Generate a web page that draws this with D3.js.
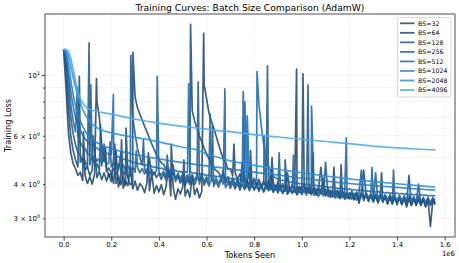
<!DOCTYPE html>
<html>
<head>
<meta charset="utf-8">
<script src="https://cdn.jsdelivr.net/npm/d3@7"></script>
<style>
  body { margin: 0; background: #fff; }
  text { font-family: "DejaVu Sans", sans-serif; fill: #000; }
</style>
</head>
<body>
<svg id="chart"></svg>
<script>
// Batch sizes and line colours (dark -> light)
const batchSizes = [32, 64, 128, 256, 512, 1024, 2048, 4096];
const colors = ["#24476a", "#1d4f7d", "#245b8a", "#23639a", "#1f6cb0", "#2a7ec6", "#2f91db", "#4ea9ea"];

// Small-batch runs are logged every 10k tokens (0 .. 1.56e6)
const denseTokens = d3.range(157).map(i => i * 1e4);

const loss32 = [
  12.4, 9.0, 6.2, 5.2, 4.75, 4.55, 4.3, 4.42, 4.12, 4.3,
  4.02, 4.25, 4.0, 4.35, 8.0, 7.0, 5.6, 4.85, 4.6, 4.25,
  4.38, 4.02, 5.3, 3.9, 4.2, 3.86, 4.12, 3.95, 4.6, 3.84,
  4.1, 3.8, 4.02, 3.92, 3.72, 4.05, 3.78, 4.4, 3.7, 3.95,
  3.74, 3.98, 3.66, 3.9, 4.6, 3.62, 3.88, 3.52, 3.84, 3.68,
  3.9, 3.62, 3.82, 3.58, 4.3, 3.66, 3.86, 3.56, 3.76, 9.2,
  8.2, 7.3, 6.8, 6.4, 6.0, 5.6, 5.25, 4.95, 4.8, 4.52,
  4.55, 4.28, 4.42, 4.15, 4.35, 4.08, 4.28, 4.02, 4.6, 3.98,
  4.2, 3.95, 4.16, 3.9, 4.1, 3.86, 4.12, 3.82, 4.05, 3.85,
  4.08, 3.8, 4.02, 3.78, 4.4, 3.75, 3.98, 3.74, 3.8, 3.92,
  3.82, 3.98, 3.72, 3.94, 3.7, 3.9, 3.66, 3.88, 3.68, 4.2,
  3.64, 3.86, 3.6, 3.82, 3.66, 3.8, 3.56, 3.78, 3.6, 3.74,
  3.54, 3.76, 3.52, 3.72, 3.4, 3.7, 3.5, 3.68, 3.48, 3.66,
  3.46, 3.64, 3.42, 3.66, 3.44, 3.62, 3.38, 3.6, 3.42, 3.58,
  3.36, 3.58, 3.38, 3.56, 3.3, 3.54, 3.34, 3.56, 3.36, 3.52,
  3.34, 3.52, 3.3, 3.5, 2.8, 3.48, 3.36
];

const loss64 = [
  12.4, 10.5, 7.5, 6.0, 5.3, 4.9, 4.62, 4.8, 4.95, 4.5,
  4.62, 4.3, 4.5, 5.4, 4.22, 4.45, 4.15, 4.4, 4.1, 4.36,
  4.08, 5.0, 4.02, 4.3, 3.98, 4.26, 3.95, 4.22, 3.98, 4.05,
  8.3, 7.6, 7.2, 6.85, 6.5, 6.2, 5.9, 5.6, 5.35, 5.1,
  4.95, 4.78, 4.72, 4.5, 4.52, 4.32, 4.4, 4.18, 4.3, 4.05,
  4.22, 3.95, 4.15, 4.0, 7.4, 6.8, 6.4, 6.0, 5.7, 5.4,
  5.15, 4.95, 4.75, 4.6, 4.48, 4.42, 4.26, 4.32, 4.1, 4.25,
  4.0, 4.2, 3.94, 4.16, 3.9, 4.8, 3.86, 4.1, 3.84, 4.06,
  3.82, 4.04, 3.8, 4.0, 3.76, 3.98, 3.78, 4.5, 3.74, 3.96,
  3.72, 3.94, 3.7, 3.92, 3.68, 3.9, 3.72, 3.88, 3.66, 3.9,
  3.7, 3.9, 3.72, 3.86, 3.66, 3.84, 3.64, 3.82, 4.6, 3.8,
  3.62, 3.8, 3.58, 3.78, 3.56, 3.76, 3.54, 3.74, 3.52, 3.72,
  3.54, 3.72, 3.5, 3.7, 3.48, 3.68, 4.5, 3.66, 3.46, 3.64,
  3.44, 3.62, 3.42, 3.62, 3.46, 3.6, 3.4, 3.58, 3.38, 3.58,
  3.42, 3.56, 3.36, 3.56, 3.38, 4.3, 3.36, 3.54, 3.34, 3.54,
  3.36, 3.52, 3.32, 3.52, 3.34, 3.5, 3.4
];

const loss128 = [
  12.4, 11.2, 8.6, 7.0, 6.1, 5.55, 5.2, 5.1, 4.82, 4.86,
  4.6, 4.7, 5.1, 4.68, 4.74, 4.48, 4.66, 5.6, 4.45, 4.58,
  4.38, 4.55, 4.34, 4.5, 5.2, 4.28, 4.48, 4.22, 4.3, 7.0,
  6.1, 5.4, 5.0, 4.7, 4.52, 4.38, 5.0, 4.3, 4.42, 4.22,
  4.38, 4.16, 4.36, 4.12, 4.32, 4.1, 4.7, 4.08, 4.28, 4.04,
  4.26, 4.02, 4.24, 4.0, 4.2, 3.98, 4.18, 4.0, 4.4, 3.96,
  4.16, 3.94, 4.14, 3.92, 4.1, 3.9, 4.08, 4.5, 3.88, 4.06,
  3.86, 4.04, 3.84, 4.02, 3.8, 4.0, 3.82, 3.98, 3.78, 3.98,
  3.8, 3.96, 3.76, 3.94, 3.74, 3.92, 3.8, 4.0, 3.74, 3.9,
  3.72, 3.9, 3.7, 3.88, 3.68, 3.86, 3.7, 3.86, 3.66, 3.84,
  3.66, 3.84, 3.64, 3.7, 3.86, 3.64, 3.82, 3.6, 3.8, 3.62,
  4.8, 3.6, 3.78, 3.58, 3.76, 3.56, 3.74, 3.56, 3.72, 3.54,
  3.72, 3.52, 3.7, 3.5, 3.7, 4.5, 3.48, 3.68, 3.48, 3.66,
  3.46, 4.4, 3.44, 3.64, 3.44, 3.62, 3.42, 3.62, 3.4, 3.6,
  3.42, 3.6, 3.38, 3.58, 3.4, 3.58, 3.36, 3.56, 3.38, 4.0,
  3.38, 3.56, 3.34, 3.54, 3.36, 3.56, 3.42
];

const loss256 = [
  12.4, 11.6, 9.4, 7.8, 6.8, 6.2, 6.0, 5.7, 5.45, 5.4,
  5.15, 5.1, 4.98, 5.06, 4.85, 4.95, 4.78, 4.9, 4.7, 4.8,
  4.62, 4.78, 4.56, 4.74, 4.52, 4.7, 4.48, 4.66, 4.46, 4.62,
  4.42, 4.6, 4.4, 4.56, 4.36, 4.54, 4.34, 4.52, 4.32, 4.5,
  4.44, 4.3, 4.46, 4.26, 4.42, 4.24, 4.4, 4.2, 4.38, 4.18,
  4.36, 4.16, 4.34, 4.14, 4.32, 4.12, 4.3, 4.1, 4.28, 4.08,
  4.26, 4.06, 4.24, 4.04, 4.22, 4.02, 4.2, 4.0, 4.05, 4.12,
  3.98, 4.16, 3.96, 4.14, 3.94, 4.0, 4.1, 3.92, 4.08, 3.9,
  4.06, 3.88, 4.04, 3.86, 4.02, 3.84, 4.0, 3.82, 3.98, 3.8,
  3.96, 3.78, 3.96, 3.76, 3.94, 3.76, 3.92, 3.74, 3.9, 3.72,
  3.9, 3.72, 3.88, 3.7, 3.76, 3.86, 3.86, 3.7, 3.84, 3.68,
  3.82, 3.66, 3.8, 3.64, 3.8, 3.64, 3.78, 3.62, 3.76, 3.7,
  3.6, 3.76, 3.6, 3.74, 3.58, 3.72, 3.56, 3.72, 3.56, 3.7,
  3.54, 3.68, 3.54, 3.68, 3.52, 3.66, 3.5, 3.66, 3.5, 3.64,
  3.48, 3.64, 3.48, 3.62, 3.46, 3.62, 3.46, 3.6, 3.44, 3.6,
  3.44, 3.58, 3.44, 3.58, 3.42, 3.56, 3.5
];

const loss512 = [
  12.4, 11.9, 10.2, 8.7, 7.7, 7.0, 6.6, 6.3, 6.05, 5.85,
  5.72, 5.58, 5.54, 5.44, 5.42, 5.32, 5.31, 5.22, 5.21, 5.14,
  5.13, 5.1, 5.06, 5.04, 4.96, 4.95, 4.9, 4.89, 4.84, 4.83,
  4.78, 4.79, 4.73, 4.74, 4.68, 4.69, 4.64, 4.65, 4.6, 4.61,
  4.56, 4.58, 4.53, 4.55, 4.5, 4.51, 4.47, 4.49, 4.44, 4.45,
  4.41, 4.43, 4.42, 4.47, 4.38, 4.4, 4.35, 4.37, 4.32, 4.34,
  4.3, 4.32, 4.28, 4.29, 4.26, 4.27, 4.23, 4.25, 4.21, 4.23,
  4.19, 4.21, 4.17, 4.19, 4.15, 4.17, 4.16, 4.18, 4.16, 4.13,
  4.14, 4.12, 7.8, 6.5, 5.6, 5.0, 4.65, 4.42, 4.3, 4.21,
  4.18, 4.13, 4.13, 4.09, 4.1, 4.06, 4.07, 4.03, 4.05, 4.01,
  4.02, 3.99, 4.0, 3.96, 3.98, 3.94, 3.96, 3.92, 3.94, 3.91,
  3.92, 3.89, 3.9, 3.87, 3.89, 3.85, 3.87, 3.84, 3.85, 3.82,
  3.84, 3.81, 3.82, 3.79, 3.81, 3.78, 3.79, 3.76, 3.78, 3.75,
  3.77, 3.74, 3.76, 3.73, 3.74, 3.71, 3.73, 3.7, 3.72, 3.69,
  3.71, 3.68, 3.7, 3.67, 3.69, 3.66, 3.68, 3.65, 3.67, 3.64,
  3.66, 3.64, 3.65, 3.62, 3.64, 3.62, 3.63
];

// Loss spikes between logged points: [tokens, loss]
const spikes32 = [
  [0.083e6, 6.2], [0.138e6, 9.7], [0.176e6, 5.4], [0.243e6, 5.8], [0.356e6, 5.2],
  [0.452e6, 5.6], [0.505e6, 4.9], [0.588e6, 14.2], [0.715e6, 5.6], [0.875e6, 5.0],
  [0.978e6, 10.5], [1.135e6, 4.6], [1.335e6, 4.4]
];
const spikes64 = [
  [0.066e6, 9.9], [0.124e6, 6.0], [0.215e6, 5.6], [0.262e6, 6.4], [0.291e6, 12.1],
  [0.533e6, 15.3], [0.785e6, 5.3], [0.93e6, 4.9], [1.005e6, 10.1], [1.165e6, 4.7]
];
const spikes128 = [
  [0.107e6, 13.1], [0.155e6, 6.6], [0.282e6, 11.8], [0.335e6, 5.8], [0.435e6, 5.1],
  [0.565e6, 9.45], [0.625e6, 6.5], [0.856e6, 10.8], [0.905e6, 5.2], [1.026e6, 9.2],
  [1.048e6, 5.2], [1.385e6, 4.5]
];
const spikes256 = [
  [0.058e6, 9.0], [0.114e6, 9.2], [0.195e6, 5.7], [0.305e6, 5.3], [0.393e6, 9.9],
  [0.615e6, 7.2], [0.677e6, 8.9], [0.754e6, 8.7], [0.842e6, 6.0], [0.965e6, 5.1],
  [1.041e6, 7.7], [1.187e6, 5.9], [1.295e6, 4.6]
];
const spikes512 = [
  [0.209e6, 8.5], [0.525e6, 9.3], [0.761e6, 8.0], [0.771e6, 7.1], [0.812e6, 10.3]
];

// Large-batch runs are smooth, read at these token counts (millions)
const smoothTokens = [
  0, 0.01, 0.02, 0.03, 0.04, 0.05, 0.06, 0.07, 0.08, 0.09, 0.1,
  0.12, 0.14, 0.17, 0.2, 0.25, 0.3, 0.35, 0.4, 0.45, 0.5, 0.55,
  0.6, 0.65, 0.7, 0.75, 0.8, 0.85, 0.9, 0.95, 1.0, 1.05, 1.1,
  1.15, 1.2, 1.25, 1.3, 1.35, 1.4, 1.45, 1.5, 1.56
];

const loss1024 = [
  12.4, 12.1, 11.0, 9.6, 8.5, 7.7, 7.2, 6.8, 6.5, 6.25, 6.05,
  5.82, 5.66, 5.5, 5.38, 5.24, 5.12, 5.03, 4.95, 4.86, 4.79, 4.72,
  4.66, 4.6, 4.54, 4.48, 4.42, 4.37, 4.32, 4.26, 4.2, 4.15, 4.1,
  4.06, 4.02, 3.98, 3.95, 3.92, 3.89, 3.86, 3.83, 3.8
];

const loss2048 = [
  12.4, 12.3, 11.8, 10.8, 9.8, 9.0, 8.4, 7.9, 7.5, 7.2, 6.95,
  6.62, 6.42, 6.25, 6.15, 6.02, 5.92, 5.82, 5.7, 5.57, 5.45, 5.36,
  5.15, 5.0, 4.86, 4.76, 4.68, 4.6, 4.53, 4.46, 4.4, 4.34, 4.28,
  4.23, 4.18, 4.13, 4.09, 4.05, 4.01, 3.97, 3.94, 3.9
];

const loss4096 = [
  12.4, 12.4, 12.2, 11.5, 10.5, 9.5, 8.7, 8.2, 7.9, 7.7, 7.56,
  7.44, 7.36, 7.28, 7.2, 7.05, 6.9, 6.78, 6.68, 6.58, 6.5, 6.42,
  6.35, 6.27, 6.22, 6.14, 6.06, 6.0, 5.94, 5.88, 5.83, 5.77, 5.72,
  5.67, 5.62, 5.56, 5.5, 5.46, 5.42, 5.39, 5.36, 5.33
];

const xTickValues = [0, 0.2e6, 0.4e6, 0.6e6, 0.8e6, 1.0e6, 1.2e6, 1.4e6, 1.6e6];
const yMinorTicks = [3, 4, 5, 6, 7, 8, 9];
const yMajorTicks = [10];
const yLabelledMinor = [3, 4, 6];

const smoothX = smoothTokens.map(t => t * 1e6);
function withSpikes(loss, spikes) {
  return d3.zip(denseTokens, loss).concat(spikes).sort((a, b) => a[0] - b[0]);
}
const runs = [
  withSpikes(loss32, spikes32),
  withSpikes(loss64, spikes64),
  withSpikes(loss128, spikes128),
  withSpikes(loss256, spikes256),
  withSpikes(loss512, spikes512),
  d3.zip(smoothX, loss1024),
  d3.zip(smoothX, loss2048),
  d3.zip(smoothX, loss4096)
];

const W = 459, H = 263;
const margin = { top: 14, right: 4, bottom: 26, left: 45 },
      width = W - margin.left - margin.right,
      height = H - margin.top - margin.bottom;

const svg = d3.select("#chart").attr("width", W).attr("height", H);
svg.append("rect").attr("width", W).attr("height", H).attr("fill", "#fff");

const g = svg.append("g").attr("transform", `translate(${margin.left},${margin.top})`);

const x = d3.scaleLinear().domain([-0.0782e6, 1.6432e6]).range([0, width]);
const y = d3.scaleLog().domain([2.564, 16.7]).range([height, 0]);

// grid
const grid = g.append("g").attr("stroke", "#dedede").attr("stroke-width", 0.6)
  .attr("stroke-dasharray", "1.5,1.5");
grid.selectAll(".gx").data(xTickValues).join("line")
  .attr("x1", d => x(d)).attr("x2", d => x(d)).attr("y1", 0).attr("y2", height);
grid.selectAll(".gy").data(yMinorTicks.concat(yMajorTicks)).join("line")
  .attr("y1", d => y(d)).attr("y2", d => y(d)).attr("x1", 0).attr("x2", width);

// curves
g.append("clipPath").attr("id", "clip").append("rect")
  .attr("width", width).attr("height", height);

const line = d3.line().x(d => x(d[0])).y(d => y(d[1]));

g.append("g").attr("clip-path", "url(#clip)")
  .selectAll("path").data(runs).join("path")
  .attr("d", line)
  .attr("fill", "none")
  .attr("stroke", (r, i) => colors[i])
  .attr("stroke-width", 1.7)
  .attr("stroke-opacity", 0.88)
  .attr("stroke-linejoin", "round");

// frame
g.append("rect").attr("width", width).attr("height", height)
  .attr("fill", "none").attr("stroke", "#222").attr("stroke-width", 0.8);

// x axis
const xAxis = g.append("g").attr("transform", `translate(0,${height})`)
  .call(d3.axisBottom(x).tickValues(xTickValues).tickSize(3.5).tickPadding(2)
    .tickFormat(d => (d / 1e6).toFixed(1)));
xAxis.select(".domain").remove();
xAxis.selectAll("line").attr("stroke", "#222").attr("stroke-width", 0.8);
xAxis.selectAll("text").attr("font-size", 6.9).attr("font-family", "DejaVu Sans");

// y axis: major and minor ticks
function sciLabel(sel, mant, exp) {
  sel.text(null);
  sel.append("tspan").text(mant ? `${mant} \u00d7 10` : "10");
  sel.append("tspan").attr("dy", -3).attr("font-size", 4.9).text(exp);
}

const yMajor = g.append("g")
  .call(d3.axisLeft(y).tickValues(yMajorTicks).tickSize(3.5).tickPadding(1.5).tickFormat(""));
const yMinor = g.append("g")
  .call(d3.axisLeft(y).tickValues(yMinorTicks).tickSize(2).tickPadding(3).tickFormat(""));
[yMajor, yMinor].forEach(a => {
  a.select(".domain").remove();
  a.selectAll("line").attr("stroke", "#222").attr("stroke-width", 0.8);
  a.selectAll("text").attr("font-size", 6.9).attr("font-family", "DejaVu Sans");
});
yMajor.selectAll(".tick text").each(function () { sciLabel(d3.select(this), null, "1"); });
yMinor.selectAll(".tick text").each(function (d) {
  if (yLabelledMinor.includes(d)) sciLabel(d3.select(this), d, "0");
});

// offset text
svg.append("text").attr("x", margin.left + width).attr("y", 256)
  .attr("text-anchor", "end").attr("font-size", 6.9).text("1e6");

// labels
svg.append("text").attr("x", margin.left + width / 2).attr("y", 10.6)
  .attr("text-anchor", "middle").attr("font-size", 9.2)
  .text("Training Curves: Batch Size Comparison (AdamW)");
svg.append("text").attr("x", margin.left + width / 2).attr("y", 258)
  .attr("text-anchor", "middle").attr("font-size", 8.2).text("Tokens Seen");
svg.append("text")
  .attr("transform", `translate(11,${margin.top + height / 2}) rotate(-90)`)
  .attr("text-anchor", "middle").attr("font-size", 8.2).text("Training Loss");

// legend
const leg = svg.append("g");
leg.append("rect").attr("x", 397.5).attr("y", 17.5).attr("width", 53.5).attr("height", 79.5)
  .attr("rx", 2).attr("fill", "#fff").attr("fill-opacity", 0.8)
  .attr("stroke", "#d0d0d0").attr("stroke-width", 0.8);
const items = leg.selectAll(".item").data(batchSizes).join("g")
  .attr("transform", (d, i) => `translate(0,${23.3 + i * 9.53})`);
items.append("line").attr("x1", 400).attr("x2", 414.5)
  .attr("stroke", (d, i) => colors[i]).attr("stroke-width", 1.8).attr("stroke-opacity", 0.85);
items.append("text").attr("x", 418).attr("y", 2.3).attr("font-size", 6.3)
  .text(d => `BS=${d}`);
</script>
</body>
</html>
